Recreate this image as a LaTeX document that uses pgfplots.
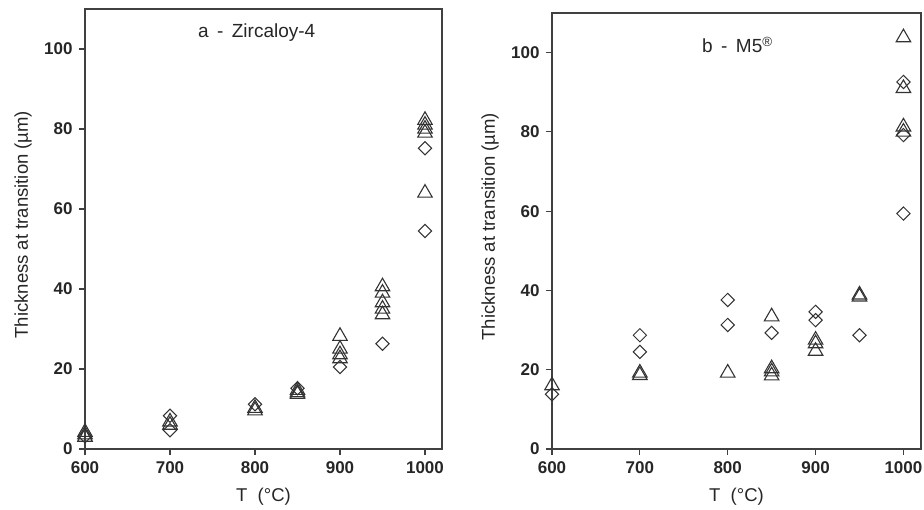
\documentclass[border=0pt]{standalone}
\usepackage{pgfplots}
\pgfplotsset{compat=1.18}
\usepackage{fontspec}
\setmainfont{Liberation Sans}
\definecolor{framec}{HTML}{404040}
\definecolor{markc}{HTML}{333333}

\pgfplotstableread{
x y
600 3
600 3.6
600 4.2
700 6.0
700 6.8
800 9.6
800 10.2
850 13.7
850 14.1
850 14.7
900 22.6
900 23.6
900 25.0
900 28.2
950 33.6
950 35.0
950 36.6
950 39.0
950 40.6
1000 64.0
1000 79.0
1000 80.0
1000 81.0
1000 82.2
}\zryTri

\pgfplotstableread{
x y
600 3.2
700 4.7
700 8.3
800 11.2
850 15.2
900 20.5
950 26.3
1000 54.5
1000 75.2
}\zryDia

\pgfplotstableread{
x y
600 16.0
700 18.6
700 19.2
800 19.2
850 18.5
850 19.5
850 20.3
850 33.4
900 24.7
900 26.6
900 27.5
950 38.4
950 38.9
1000 80.0
1000 81.3
1000 91.0
1000 103.8
}\mfTri

\pgfplotstableread{
x y
600 13.8
700 24.5
700 28.7
800 31.3
800 37.6
850 29.3
900 32.5
900 34.6
950 28.7
1000 59.4
1000 79.2
1000 92.6
}\mfDia

\pgfplotsset{
  myax/.style={
    scale only axis,
    xmin=600, xmax=1020, ymin=0, ymax=110,
    xtick={600,700,...,1000}, ytick={0,20,...,100},
    tick align=outside, tick pos=left,
    major tick length=6pt,
    axis line style={draw=framec, line width=1.1pt},
    every tick/.style={draw=framec, line width=1.1pt},
    /pgf/number format/assume math mode=true,
    /pgf/number format/1000 sep={},
    ticklabel style={font=\fontsize{17}{19}\selectfont\bfseries, text=black!85},
    yticklabel style={xshift=-3pt},
    xticklabel style={yshift=-3pt},
    label style={font=\fontsize{18.5}{20}\selectfont, text=black!85},
    xlabel={T\ \ (°C)},
    ylabel={Thickness at transition (µm)},
    xlabel style={at={(axis description cs:0.5,0)}, anchor=base, yshift=-52pt},
    ylabel style={at={(axis description cs:0,0.51)}, anchor=center, yshift=62pt},
    clip=false,
  },
  tri/.style={only marks, mark=triangle, mark size=8.4pt,
    mark options={draw=markc, fill=none, line width=1.1pt}},
  dia/.style={only marks, mark=square, mark size=4.7pt,
    mark options={draw=markc, fill=none, line width=1.0pt, rotate=45}},
}

\begin{document}
\begin{tikzpicture}
\useasboundingbox (0pt,0pt) rectangle (924pt,509pt);
\begin{axis}[myax, at={(85pt,60pt)}, anchor=south west, width=357pt, height=440pt]
  \addplot[dia] table {\zryDia};
  \addplot[tri] table {\zryTri};
  \node[font=\fontsize{19}{21}\selectfont, text=black!85] at (axis cs:802,104) {a\,\ -\,\ Zircaloy-4};
\end{axis}
\begin{axis}[myax, at={(552pt,60pt)}, anchor=south west, width=369pt, height=436pt]
  \addplot[dia] table {\mfDia};
  \addplot[tri] table {\mfTri};
  \node[font=\fontsize{19}{21}\selectfont, text=black!85] at (axis cs:811,102) {b\,\ -\,\ M5\textsuperscript{®}};
\end{axis}
\end{tikzpicture}
\end{document}
